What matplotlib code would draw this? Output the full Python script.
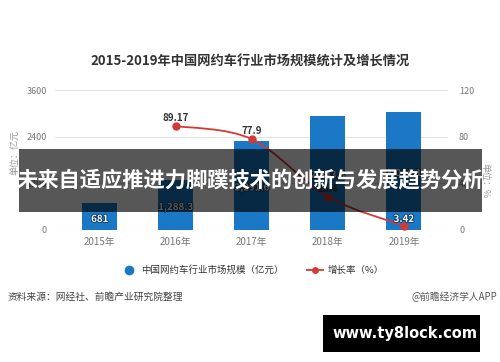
import matplotlib
matplotlib.use('Agg')
import matplotlib.pyplot as plt
import matplotlib.patheffects as pe
from matplotlib.path import Path
from matplotlib.patches import PathPatch, Rectangle
from matplotlib.lines import Line2D
import numpy as np

plt.rcParams['font.family'] = ['Noto Sans CJK SC', 'DejaVu Sans']

# data
years = ['2015年', '2016年', '2017年', '2018年', '2019年']
market_size = [681, 1288.3, 2291.6, 2943.3, 3044.1]   # 亿元
growth_years = [1, 2, 3, 4]
growth_rate = [89.17, 77.9, 28.4, 3.42]               # %
size_labels = ['681', '1,288.3', '2,291.6', '2,943.3', '3,044.1']
rate_labels = ['89.17', '77.9', '28.4', '3.42']

bar_color = '#1a78c6'
line_color = '#d23a35'
grey = '#777777'

fig = plt.figure(figsize=(5, 3.62), dpi=100)
ax = fig.add_axes([0.11, 0.365, 0.786, 0.386])
ax2 = ax.twinx()

x = np.arange(len(years))
ax.bar(x, market_size, width=0.46, color=bar_color, zorder=3)
ax.set_xlim(-0.59, 4.58)
ax.set_ylim(0, 3600)
ax.set_yticks([0, 1200, 2400, 3600])
ax.set_xticks(x)
ax.set_xticklabels(years)
ax.grid(axis='y', color='#e2e2e2', linewidth=0.8, zorder=0)
for a in (ax, ax2):
    for s in a.spines.values():
        s.set_visible(False)
    a.tick_params(length=0, labelsize=6.5, colors=grey)
ax.tick_params(axis='x', labelsize=7, pad=5)
ax.tick_params(axis='y', pad=6)
ax2.tick_params(axis='y', pad=8)

# bar value labels
for xi, v, t in zip(x, market_size, size_labels):
    ax.text(xi, v / 2 - 60, t, ha='center', va='center', fontsize=7,
            color='white', fontweight='bold', zorder=5,
            path_effects=[pe.withStroke(linewidth=1.2, foreground='#0d3a66')])

ax2.set_ylim(0, 120)
ax2.set_yticks([0, 40, 80, 120])

# smooth growth curve drawn as bezier path through the data points
px = np.array(growth_years, dtype=float)
py = np.array(growth_rate, dtype=float)
verts = [(px[0], py[0])]
codes = [Path.MOVETO]
for i in range(len(px) - 1):
    p0 = (px[i - 1], py[i - 1]) if i > 0 else (px[i], py[i])
    p3 = (px[i + 2], py[i + 2]) if i + 2 < len(px) else (px[i + 1], py[i + 1])
    c1 = (px[i] + (px[i + 1] - p0[0]) / 6, py[i] + (py[i + 1] - p0[1]) / 6)
    c2 = (px[i + 1] - (p3[0] - px[i]) / 6, py[i + 1] - (p3[1] - py[i]) / 6)
    verts += [c1, c2, (px[i + 1], py[i + 1])]
    codes += [Path.CURVE4] * 3
ax2.add_patch(PathPatch(Path(verts, codes), fill=False, edgecolor=line_color,
                        linewidth=1.3, zorder=4))
ax2.plot(growth_years, growth_rate, 'o', color=line_color, markersize=5, zorder=5)

for xi, v, t in zip(growth_years, growth_rate, rate_labels):
    if xi == 4:
        ax2.text(xi, v + 6, t, ha='center', va='center', fontsize=7,
                 color='white', fontweight='bold', zorder=6,
                 path_effects=[pe.withStroke(linewidth=1.2, foreground='#0d3a66')])
    else:
        ax2.text(xi, v + 7, t, ha='center', va='center', fontsize=7,
                 color='#333333', fontweight='bold', zorder=6)

# title and units
fig.text(0.5, 0.829, '2015-2019年中国网约车行业市场规模统计及增长情况',
         ha='center', va='center', fontsize=9.5, fontweight='bold', color='#333333')
fig.text(0.03, 0.58, '单位：亿元', rotation=90, ha='center', va='center',
         fontsize=6.5, color='#999999')
fig.text(0.97, 0.5, '单位：%', rotation=270, ha='center', va='center',
         fontsize=6.5, color='#999999')

# legend
handles = [Line2D([], [], marker='o', linestyle='none', color=bar_color, markersize=6),
           Line2D([], [], marker='o', color=line_color, markersize=4, linewidth=1.3)]
fig.legend(handles, ['中国网约车行业市场规模（亿元）', '增长率（%）'], loc='center',
           bbox_to_anchor=(0.505, 0.254), ncol=2, frameon=False, fontsize=6.8,
           handlelength=1.6, columnspacing=2.5, handletextpad=0.5,
           labelcolor='#333333')

fig.text(0.016, 0.18, '资料来源：网经社、前瞻产业研究院整理', ha='left', va='center',
         fontsize=7, color='#444444')
fig.text(0.994, 0.18, '@前瞻经济学人APP', ha='right', va='center',
         fontsize=7, color='#555555')

# overlay banner
fig.patches.append(Rectangle((0.038, 1 - 212 / 362), 0.926, 63 / 362,
                             transform=fig.transFigure, facecolor='black',
                             alpha=0.66, edgecolor='none', zorder=10))
fig.text(0.5, 1 - 181 / 362, '未来自适应推进力脚蹼技术的创新与发展趋势分析',
         ha='center', va='center', fontsize=15.3, fontweight='bold',
         color='white', zorder=11)

# site stamp
fig.patches.append(Rectangle((0.646, 1 - 352 / 362), 0.314, 37 / 362,
                             transform=fig.transFigure, facecolor='black',
                             edgecolor='none', zorder=10))
fig.text(0.81, 1 - 333.5 / 362, 'www.ty8lock.com', ha='center', va='center',
         fontsize=10.5, fontweight='bold', color='white', zorder=11,
         family=['DejaVu Sans'])

fig.savefig('out.png', dpi=100)
